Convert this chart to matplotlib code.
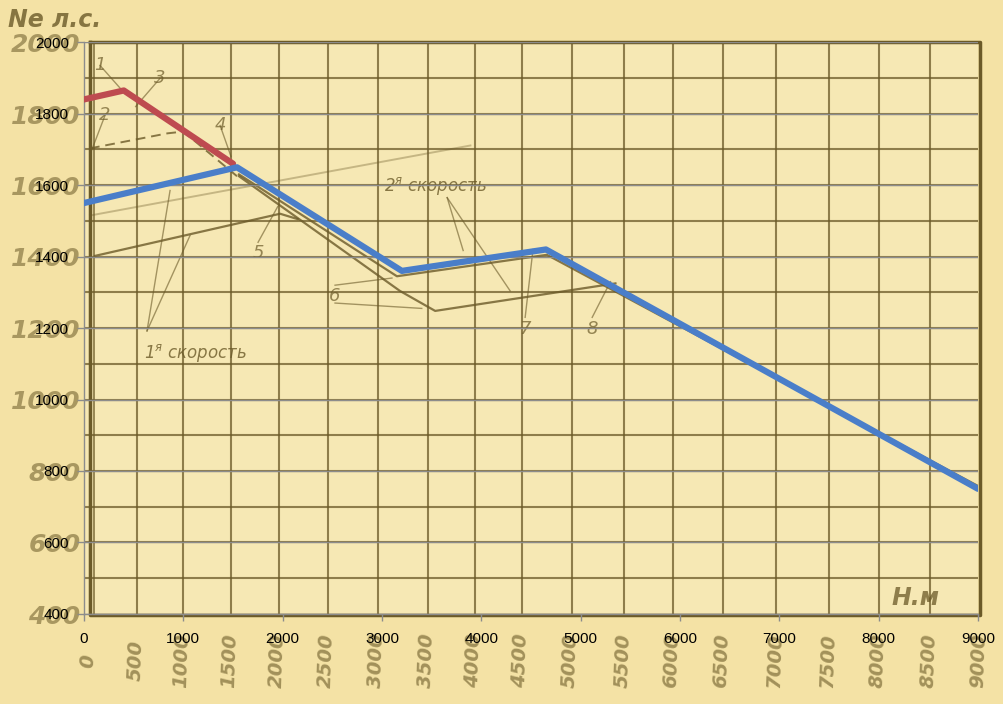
import numpy as np
import matplotlib.pyplot as plt

# Overlay series (altitude H, m -> power Ne, hp)
red_x = [0, 400, 1500]
red_y = [1840, 1865, 1660]
blue_x = [0, 1540, 3200, 4650, 9000]
blue_y = [1550, 1650, 1360, 1420, 750]

# Overlay axis ticks
x_ticks = [0, 1000, 2000, 3000, 4000, 5000, 6000, 7000, 8000, 9000]
y_ticks = [400, 600, 800, 1000, 1200, 1400, 1600, 1800, 2000]

# Scanned paper grid (positions, overlay units)
scan_grid_x = [60, 534, 997, 1480, 1964, 2457, 2961, 3464, 3937, 4411,
               4914, 5438, 5932, 6435, 6969, 7503, 8006, 8520, 9023]
scan_grid_y = [500, 600, 700, 800, 900, 1000, 1100, 1200, 1300,
               1400, 1500, 1600, 1700, 1800, 1900]
scan_x_labels = ['0', '500', '1000', '1500', '2000', '2500', '3000', '3500',
                 '4000', '4500', '5000', '5500', '6000', '6500', '7000',
                 '7500', '8000', '8500', '9000']
scan_y_labels = ['400', '600', '800', '1000', '1200', '1400', '1600',
                 '1800', '2000']

# Scanned curves
scan_main_x = [1560, 3150, 4660, 9000]
scan_main_y = [1630, 1345, 1405, 758]
scan_6_x = [1560, 3180, 3535, 5350]
scan_6_y = [1625, 1304, 1248, 1325]
scan_5_x = [110, 1974, 2150]
scan_5_y = [1402, 1520, 1505]
scan_light_x = [60, 3890]
scan_light_y = [1515, 1711]
scan_dash_x = [60, 840, 1000, 1540]
scan_dash_y = [1703, 1745, 1750, 1625]
scan_leaders = [([634, 866], [1192, 1585]), ([634, 1067], [1192, 1459]),
                ([3656, 3817], [1565, 1417]), ([3656, 4290], [1565, 1304]),
                ([4441, 4520], [1230, 1420]), ([5116, 5300], [1230, 1330]),
                ([1752, 1950], [1440, 1540]), ([2527, 3100], [1320, 1340]),
                ([2527, 3400], [1270, 1255]), ([161, 400], [1935, 1860]),
                ([211, 80], [1795, 1700]), ([765, 520], [1899, 1820]),
                ([1370, 1480], [1767, 1680])]
scan_numbers = ['1', '2', '3', '4', '5', '6', '7', '8']
scan_num_x = [161, 211, 765, 1370, 1752, 2527, 4441, 5116]
scan_num_y = [1935, 1795, 1899, 1767, 1411, 1290, 1198, 1198]

ink = '#6b5a28'

fig = plt.figure(figsize=(10.04, 7.04), dpi=100, facecolor='#f4e2a5')
ax = fig.add_axes([0.0837, 0.128, 0.8904, 0.812])
ax.set_facecolor('#f6e8b4')

# --- the scanned sheet underneath ---
for gx in scan_grid_x:
    ax.axvline(gx, color=ink, lw=1.5, alpha=0.75, zorder=1)
for gy in scan_grid_y:
    ax.axhline(gy, color=ink, lw=1.5, alpha=0.75, zorder=1)
ax.plot([60, 9023, 9023, 60, 60], [2000, 2000, 397, 397, 2000],
        color=ink, lw=2.5, clip_on=False, zorder=1)
ax.plot([100, 100], [397, 2000], color=ink, lw=1.2, alpha=0.8, zorder=1)

ax.plot(scan_main_x, scan_main_y, color=ink, lw=1.6, alpha=0.8, zorder=2)
ax.plot(scan_6_x, scan_6_y, color=ink, lw=1.6, alpha=0.8, zorder=2)
ax.plot(scan_5_x, scan_5_y, color=ink, lw=1.6, alpha=0.8, zorder=2)
ax.plot(scan_light_x, scan_light_y, color=ink, lw=1.4, alpha=0.35, zorder=2)
ax.plot(scan_dash_x, scan_dash_y, color=ink, lw=1.4, ls=(0, (5, 3)),
        alpha=0.8, zorder=2)
for lx, ly in scan_leaders:
    ax.plot(lx, ly, color=ink, lw=1.0, alpha=0.6, zorder=2)
for s, nx, ny in zip(scan_numbers, scan_num_x, scan_num_y):
    ax.text(nx, ny, s, color=ink, alpha=0.7, fontsize=13, style='italic',
            ha='center', va='center', zorder=2)

ax.text(3535, 1599, '2$^я$ скорость', color=ink, alpha=0.8, fontsize=12,
        style='italic', ha='center', va='center', zorder=2)
ax.text(1118, 1130, '1$^я$ скорость', color=ink, alpha=0.8, fontsize=12,
        style='italic', ha='center', va='center', zorder=2)
ax.text(8369, 445, 'Н.м', color=ink, alpha=0.75, fontsize=17,
        style='italic', weight='bold', ha='center', va='center', zorder=2)
fig.text(0.008, 0.972, 'Nе л.с.', color=ink, alpha=0.8, fontsize=17,
         style='italic', weight='bold', ha='left', va='center')

# big blurry scan labels, printed under the overlay labels
ytf = ax.get_yaxis_transform()
for s, v in zip(scan_y_labels, y_ticks):
    ax.text(-0.004, v - 8, s, transform=ytf, color=ink, alpha=0.55,
            fontsize=18, style='italic', weight='bold', ha='right',
            va='center', clip_on=False, zorder=0)
xtf = ax.get_xaxis_transform()
for s, v in zip(scan_x_labels, scan_grid_x):
    ax.text(v - 15, -0.082, s, transform=xtf, color=ink, alpha=0.6,
            fontsize=14, style='italic', weight='bold', rotation=88,
            ha='center', va='center', clip_on=False, zorder=0)

# --- overlay chart ---
for v in y_ticks:
    ax.axhline(v, color='#8c8c8c', lw=1.0, zorder=3)
ax.plot(red_x, red_y, color='#be4b50', lw=4.5, solid_capstyle='round',
        solid_joinstyle='round', zorder=5)
ax.plot(blue_x, blue_y, color='#4a7ec9', lw=4.5, solid_capstyle='round',
        solid_joinstyle='round', zorder=6)

ax.set_xlim(0, 9000)
ax.set_ylim(400, 2000)
ax.set_xticks(x_ticks)
ax.set_yticks(y_ticks)
ax.tick_params(axis='both', colors='#8c8c8c', labelcolor='black',
               labelsize=11, length=5, width=1)
ax.tick_params(axis='x', pad=8)
ax.tick_params(axis='y', pad=6)
for lab in ax.get_xticklabels() + ax.get_yticklabels():
    lab.set_fontfamily('Liberation Sans')
for side in ['top', 'right']:
    ax.spines[side].set_visible(False)
for side in ['left', 'bottom']:
    ax.spines[side].set_color('#8c8c8c')
    ax.spines[side].set_linewidth(1.0)
    ax.spines[side].set_zorder(4)

plt.savefig('out.png', dpi=100, facecolor=fig.get_facecolor())
